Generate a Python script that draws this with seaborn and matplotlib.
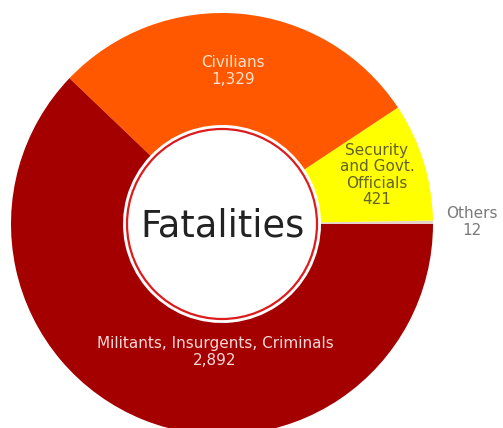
import matplotlib
matplotlib.use("Agg")
import matplotlib.pyplot as plt
import seaborn as sns

# Données
categories = ["Others", "Security and Govt. Officials", "Civilians", "Militants, Insurgents, Criminals"]
label_lines = ["Others", "Security\nand Govt.\nOfficials", "Civilians", "Militants, Insurgents, Criminals"]
fatalities = [12, 421, 1329, 2892]
colors = ["#e6d2cc", "#ffff00", "#ff5800", "#a50000"]

sns.set_theme(style="white")
plt.rcParams["font.family"] = ["DejaVu Sans"]

# pixel geometry of the reference
W, H = 503, 428
cx, cy, R = 222, 224, 211


def px(x, y):
    return (x - cx) / R, (cy - y) / R


fig = plt.figure(figsize=(W / 100, H / 100), dpi=100)
ax = fig.add_axes([0, 0, 1, 1])
ax.pie(fatalities, colors=colors, startangle=0, counterclock=True, radius=1,
       wedgeprops=dict(width=1 - 99 / R, linewidth=0))

# anneau rouge au centre
ring = plt.Circle((0, 0), 95 / R, facecolor="white", edgecolor="#dc1c1c", linewidth=1.6)
ax.add_patch(ring)
ax.text(*px(223, 226), "Fatalities", ha="center", va="center", fontsize=26.5, color="#222222")

# étiquettes
fmt = ["{:,}".format(v) for v in fatalities]
ax.text(*px(233, 71), label_lines[2] + "\n" + fmt[2], ha="center", va="center",
        fontsize=11, color="#ffe2cc", linespacing=1.15)
ax.text(*px(377, 175), label_lines[1] + "\n" + fmt[1], ha="center", va="center",
        fontsize=11, color="#62622a", linespacing=1.1)
ax.text(*px(472, 222), label_lines[0] + "\n" + fmt[0], ha="center", va="center",
        fontsize=11, color="#7a7a7a", linespacing=1.1)
ax.text(*px(215, 352), label_lines[3] + "\n" + fmt[3], ha="center", va="center",
        fontsize=11, color="#f6d8d8", linespacing=1.1)

x0, y1 = px(0, 0)
x1, y0 = px(W, H)
ax.set_xlim(x0, x1)
ax.set_ylim(y0, y1)
ax.set_aspect("equal", adjustable="box")
ax.axis("off")

plt.savefig("out.png", dpi=100)
